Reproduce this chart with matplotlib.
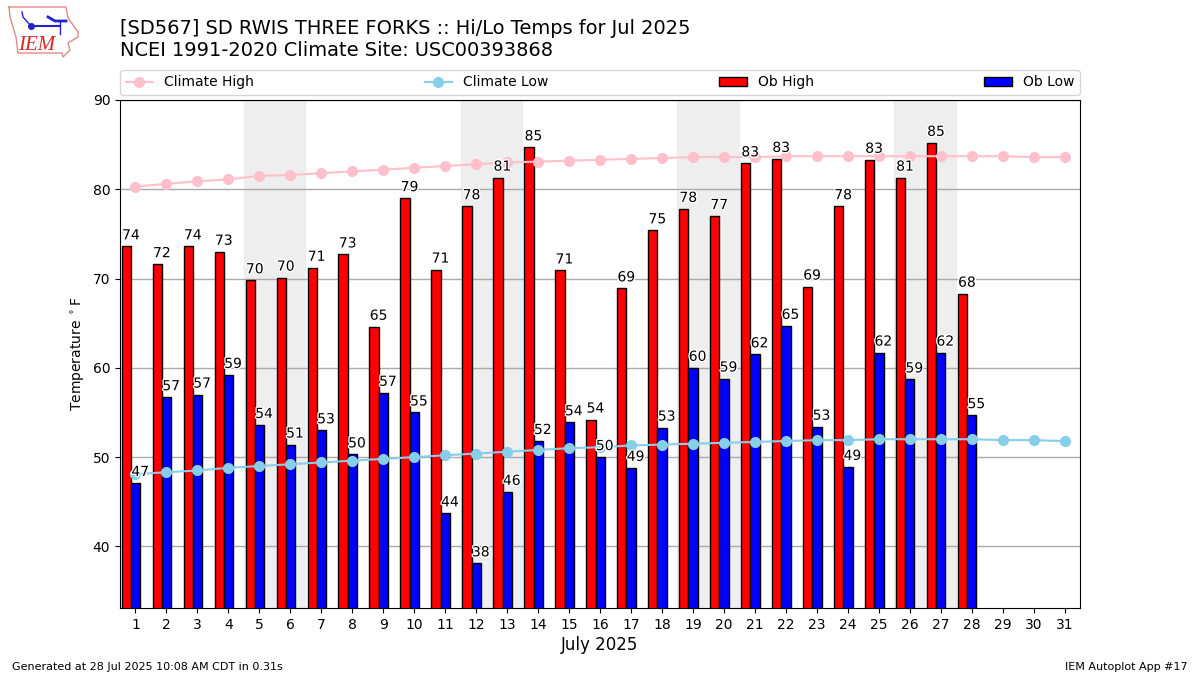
import matplotlib

matplotlib.use("Agg")
import matplotlib.patheffects as PathEffects
import matplotlib.pyplot as plt
import numpy as np

days = np.arange(1, 32)
obs_days = np.arange(1, 29)
ob_high = [73.6, 71.6, 73.6, 73.0, 69.8, 70.1, 71.2, 72.7, 64.6, 79.0, 71.0, 78.1, 81.3, 84.7,
           70.9, 54.2, 68.9, 75.4, 77.8, 77.0, 82.9, 83.4, 69.1, 78.1, 83.3, 81.3, 85.2, 68.3]
ob_low = [47.1, 56.7, 57.0, 59.2, 53.6, 51.4, 53.0, 50.3, 57.2, 55.0, 43.7, 38.1, 46.1, 51.8,
          53.9, 50.0, 48.8, 53.3, 60.0, 58.8, 61.5, 64.7, 53.4, 48.9, 61.7, 58.7, 61.7, 54.7]
climate_high = [80.3, 80.6, 80.9, 81.1, 81.5, 81.6, 81.8, 82.0, 82.2, 82.4, 82.6, 82.8, 83.0, 83.1, 83.2, 83.3,
                83.4, 83.5, 83.6, 83.6, 83.6, 83.7, 83.7, 83.7, 83.7, 83.7, 83.7, 83.7, 83.7, 83.6, 83.6]
climate_low = [48.1, 48.3, 48.5, 48.8, 49.0, 49.2, 49.4, 49.6, 49.8, 50.0, 50.2, 50.4, 50.6, 50.8, 51.0, 51.1,
               51.3, 51.4, 51.5, 51.6, 51.7, 51.8, 51.9, 51.9, 52.0, 52.0, 52.0, 52.0, 51.9, 51.9, 51.8]
weekends = [5, 12, 19, 26]
# rough outline of the state for the logo
logo_x = [9, 66, 68, 78, 78, 68, 70, 63, 62, 18, 16, 10, 9]
logo_y = [7, 7, 18, 32, 37, 43, 50, 57, 53, 53, 37, 17, 7]

fig = plt.figure(figsize=(12, 6.75), dpi=100)
ax = fig.add_axes([0.1, 0.0993, 0.8, 0.7526])

for day in weekends:
    ax.axvspan(day - 0.5, day + 1.48, color="#eeeeee", zorder=0)

ax.bar(obs_days - 0.295, ob_high, width=0.3, color="r", edgecolor="k", label="Ob High", zorder=2)
ax.bar(obs_days + 0.005, ob_low, width=0.3, color="b", edgecolor="k", label="Ob Low", zorder=2)
ax.plot(days, climate_high, color="pink", marker="o", ms=7, label="Climate High", zorder=3)
ax.plot(days, climate_low, color="skyblue", marker="o", ms=7, label="Climate Low", zorder=3)

for x, val in zip(obs_days, ob_high):
    t = ax.text(x - 0.15, val + 0.45, f"{val:.0f}", ha="center", va="bottom", fontsize=10, zorder=4)
    t.set_path_effects([PathEffects.withStroke(linewidth=2, foreground="white")])
for x, val in zip(obs_days, ob_low):
    t = ax.text(x + 0.15, val + 0.45, f"{val:.0f}", ha="center", va="bottom", fontsize=10, zorder=4)
    t.set_path_effects([PathEffects.withStroke(linewidth=2, foreground="white")])

ax.set_xlim(0.5, 31.5)
ax.set_ylim(33.1, 90)
ax.set_xticks(days)
ax.set_yticks([40, 50, 60, 70, 80, 90])
ax.grid(True, axis="y", color="#aaaaaa", lw=1)
ax.set_axisbelow(True)
ax.set_ylabel(r"Temperature $^\circ$F")
ax.set_xlabel("July 2025", fontsize=12, labelpad=3)

handles, labels = ax.get_legend_handles_labels()
order = [labels.index(n) for n in ["Climate High", "Climate Low", "Ob High", "Ob Low"]]
ax.legend([handles[i] for i in order], [labels[i] for i in order], ncol=4, mode="expand",
          loc="lower left", bbox_to_anchor=(0, 1.0098, 1, 0.05), borderaxespad=0)

fig.text(0.1, 0.9115, "[SD567] SD RWIS THREE FORKS :: Hi/Lo Temps for Jul 2025\n"
         "NCEI 1991-2020 Climate Site: USC00393868", fontsize=13.95, va="bottom", linespacing=1.2)
fig.text(0.01, 0.008, "Generated at 28 Jul 2025 10:08 AM CDT in 0.31s", fontsize=8)
fig.text(0.99, 0.008, "IEM Autoplot App #17", fontsize=8, ha="right")

# logo, drawn in pixel space of the picture
logo = fig.add_axes([0, 0, 1, 1], facecolor="none")
logo.set_xlim(0, 1200)
logo.set_ylim(675, 0)
logo.axis("off")
logo.plot(logo_x, logo_y, color="#e08a8a", lw=1)
logo.plot([31, 60], [26, 26], color="#2222cc", lw=1.5)
logo.plot([31], [26], color="#2222cc", marker="o", ms=4)
logo.plot([31, 23, 22], [26, 17, 12], color="#2222cc", lw=1)
logo.plot([48, 55, 66], [17, 21, 21], color="#2222cc", lw=2)
logo.plot([60, 60], [21, 34], color="#2222cc", lw=1)
logo.text(37, 45, "IEM", color="#d62728", fontsize=15, family="Liberation Serif", style="italic", ha="center", va="center")

fig.savefig("out.png", dpi=100)
